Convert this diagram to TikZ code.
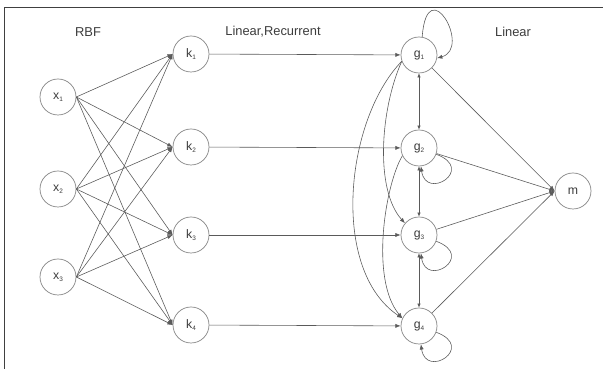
\documentclass[tikz,border=0pt]{standalone}
\usepackage{fontspec}
\setmainfont{Liberation Sans}
\usetikzlibrary{arrows.meta}
\definecolor{wire}{HTML}{5A5A5A}
\definecolor{ring}{HTML}{858585}
\definecolor{inkgray}{HTML}{3C3C3C}
\newcommand{\idx}[1]{\raisebox{-0.35ex}{\fontsize{5.5}{6}\selectfont #1}}
\tikzset{
  unit/.style  = {circle, draw = ring, line width = 0.6pt, minimum size = 1.08cm,
                  inner sep = 0pt, text = inkgray, font = \fontsize{10.5}{12}\selectfont},
  layer/.style = {text = inkgray, font = \fontsize{11}{13}\selectfont},
  link/.style  = {wire, line width = 0.5pt, -{Latex[length=4.5pt,width=3.5pt]}},
  both/.style  = {wire, line width = 0.5pt,
                  {Latex[length=3.5pt,width=3pt]}-{Latex[length=3.5pt,width=3pt]}}
}

\begin{document}
\begin{tikzpicture}%
        [x = 0.03cm, y = 0.03cm]
        \useasboundingbox (0,0) rectangle (603,369);
        \draw [black!75, line width = 0.8pt] (4.5,0) -- (4.5,362) -- (603,362);

        \node [layer] (rbf) at (88,337)  {RBF};
        \node [layer] (rec) at (273,337) {Linear,Recurrent};
        \node [layer] (lin) at (513,337) {Linear};

        \node [unit] (x1) at (58,272) {x\idx{1}};
        \node [unit] (x2) at (58,180) {x\idx{2}};
        \node [unit] (x3) at (58,92)  {x\idx{3}};

        \node [unit] (k1) at (191,315) {k\idx{1}};
        \node [unit] (k2) at (191,222) {k\idx{2}};
        \node [unit] (k3) at (191,134) {k\idx{3}};
        \node [unit] (k4) at (191,44)  {k\idx{4}};

        \node [unit] (g1) at (419,314) {g\idx{1}};
        \node [unit] (g2) at (419,221) {g\idx{2}};
        \node [unit] (g3) at (419,134) {g\idx{3}};
        \node [unit] (g4) at (419,43)  {g\idx{4}};

        \node [unit] (m) at (573,178) {m};

        \draw [link] (x1.east) to (k1.west);
        \draw [link] (x1.east) to (k2.west);
        \draw [link] (x1.east) to (k3.west);
        \draw [link] (x1.east) to (k4.west);
        \draw [link] (x2.east) to (k1.west);
        \draw [link] (x2.east) to (k2.west);
        \draw [link] (x2.east) to (k3.west);
        \draw [link] (x2.east) to (k4.west);
        \draw [link] (x3.east) to (k1.west);
        \draw [link] (x3.east) to (k2.west);
        \draw [link] (x3.east) to (k3.west);
        \draw [link] (x3.east) to (k4.west);

        \draw [link] (k1) to (g1);
        \draw [link] (k2) to (g2);
        \draw [link] (k3) to (g3);
        \draw [link] (k4) to (g4);

        \draw [both] (g1) to (g2);
        \draw [both] (g2) to (g3);
        \draw [both] (g3) to (g4);

        \draw [link] (g1.200) .. controls (380,259) and (375,179) .. (g3.140);
        \draw [link] (g1.200) .. controls (345,249) and (330,99) .. (g4.155);
        \draw [link] (g2.205) .. controls (385,184) and (370,89) .. (g4.155);

        \draw [link] (g1.80) .. controls +(5,67) and +(35,10) .. (g1.350);
        \draw [link] (g2.-20) .. controls +(40,-15) and +(5,-35) .. (g2.-84);
        \draw [link] (g3.-20) .. controls +(40,-15) and +(5,-35) .. (g3.-84);
        \draw [link] (g4.-20) .. controls +(40,-15) and +(5,-35) .. (g4.-84);

        \draw [link] (g1) to (m.west);
        \draw [link] (g2) to (m.west);
        \draw [link] (g3) to (m.west);
        \draw [link] (g4) to (m.west);
    \end{tikzpicture}
\end{document}
